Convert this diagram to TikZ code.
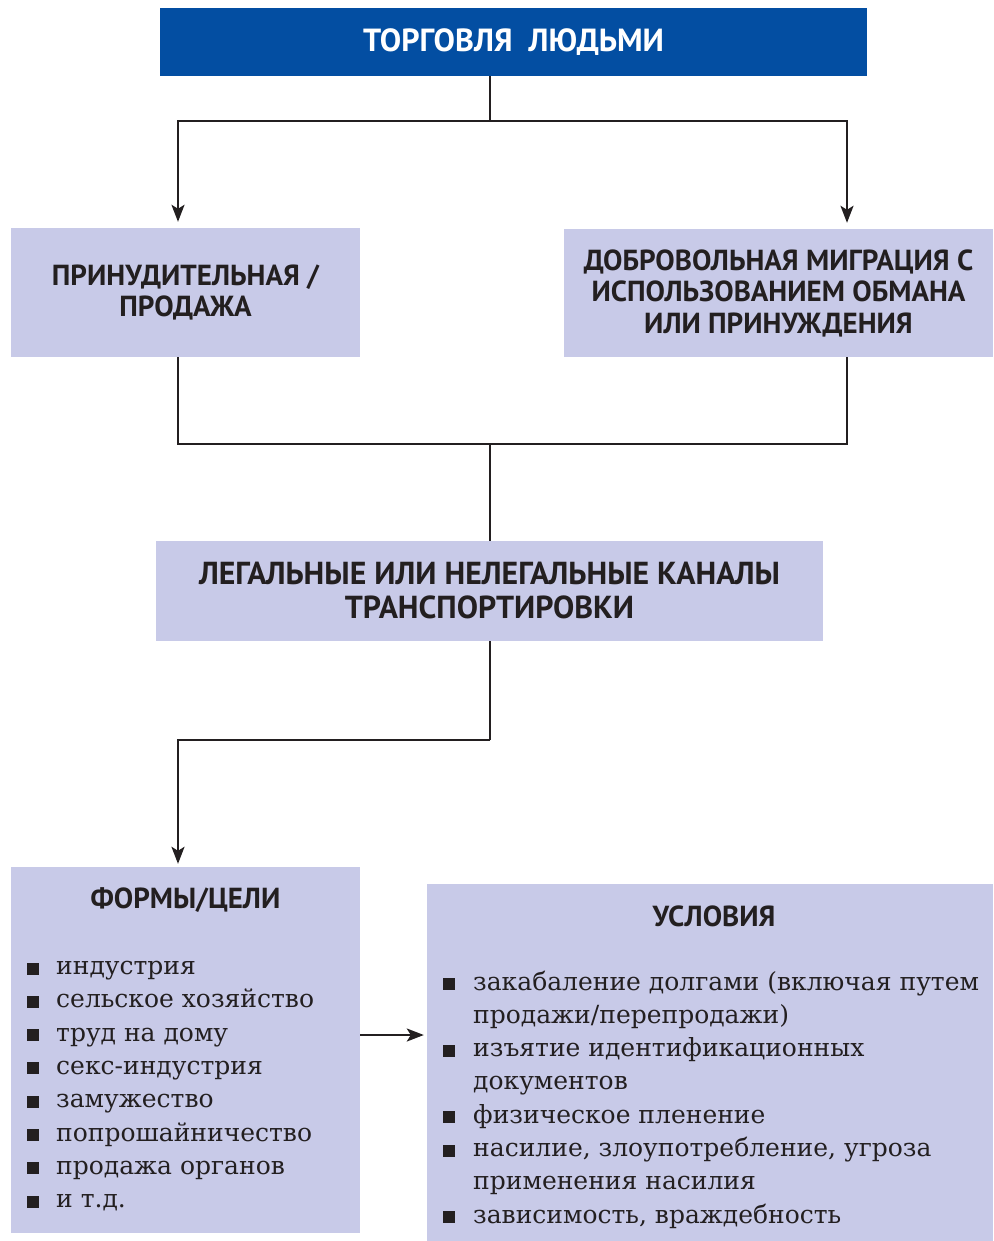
\documentclass[tikz,border=0pt]{standalone}
\usepackage{fontspec}
\setmainfont{DejaVu Serif}
\newfontfamily\hdfont{PT Sans}
\usetikzlibrary{arrows.meta}
\definecolor{dblue}{HTML}{034EA2}
\definecolor{lav}{HTML}{C8CAE8}
\definecolor{ink}{HTML}{231F20}
\newcommand{\blt}{\rule{12pt}{12pt}}
\begin{document}
\begin{tikzpicture}[x=1pt,y=-1pt,
  box/.style={fill=lav, draw=none, inner sep=0, align=center, text=ink,
    font=\hdfont\bfseries\fontsize{29}{31.5}\selectfont},
  hd/.style={inner sep=0, text=ink, font=\hdfont\bfseries\fontsize{29}{31.5}\selectfont},
  lst/.style={inner sep=0, anchor=base west, text=ink, font=\fontsize{25}{33.3}\selectfont},
  ln/.style={draw=ink, line width=2.2pt},
  arr/.style={ln, -{Stealth[length=17pt,width=13pt,inset=4pt]}}]
\useasboundingbox (0,0) rectangle (993,1241);
\fill[white] (0,0) rectangle (993,1241);
% boxes
\node[box, fill=dblue, text=white, minimum width=707, minimum height=68,
  font=\hdfont\bfseries\fontsize{32}{34}\selectfont] (top) at (513.5,42) {ТОРГОВЛЯ\ \ ЛЮДЬМИ};
\node[box, minimum width=349, minimum height=129] (left) at (185.5,292.5) {ПРИНУДИТЕЛЬНАЯ /\\ПРОДАЖА};
\node[box, minimum width=429, minimum height=128] (right) at (778.5,293) {ДОБРОВОЛЬНАЯ МИГРАЦИЯ С\\ИСПОЛЬЗОВАНИЕМ ОБМАНА\\ИЛИ ПРИНУЖДЕНИЯ};
\node[box, minimum width=667, minimum height=100,
  font=\hdfont\bfseries\fontsize{31.8}{34}\selectfont] (mid) at (489.5,591) {ЛЕГАЛЬНЫЕ ИЛИ НЕЛЕГАЛЬНЫЕ КАНАЛЫ\\ТРАНСПОРТИРОВКИ};
\node[box, minimum width=349, minimum height=366] (bl) at (185.5,1050) {};
\node[box, minimum width=566, minimum height=357] (br) at (710,1062.5) {};
% headers and lists
\node[hd] (blh) at (185.5,900) {ФОРМЫ/ЦЕЛИ};
\node[hd] (brh) at (714,916) {УСЛОВИЯ};
\node[lst] (bll) at (27,974.5) {\begin{tabular}[t]{@{}l@{\hspace{17pt}}l@{}}
\blt & индустрия\\
\blt & сельское хозяйство\\
\blt & труд на дому\\
\blt & секс-индустрия\\
\blt & замужество\\
\blt & попрошайничество\\
\blt & продажа органов\\
\blt & и т.д.
\end{tabular}};
\node[lst] (brl) at (443,990) {\begin{tabular}[t]{@{}l@{\hspace{18pt}}l@{}}
\blt & закабаление долгами (включая путем\\
 & продажи/перепродажи)\\
\blt & изъятие идентификационных\\
 & документов\\
\blt & физическое пленение\\
\blt & насилие, злоупотребление, угроза\\
 & применения насилия\\
\blt & зависимость, враждебность
\end{tabular}};
% connectors
\coordinate (j1) at (490,121);
\coordinate (j2) at (490,444);
\coordinate (j3) at (490,740);
\draw[ln] (j1 |- top.south) -- (j1);
\draw[arr, shorten >=6pt] (j1) -| ([xshift=-7.5]left.north);
\draw[arr, shorten >=6pt] (j1) -| ([xshift=68.5]right.north);
\draw[ln] ([xshift=-7.5]left.south) |- (j2);
\draw[ln] ([xshift=68.5]right.south) |- (j2);
\draw[ln] (j2) -- (j2 |- mid.north);
\draw[ln] (j3 |- mid.south) -- (j3);
\draw[arr, shorten >=3pt] (j3) -| ([xshift=-7.5]bl.north);
\draw[arr, shorten >=3pt] ([yshift=15]bl.east) -- ([yshift=15]bl.east -| br.west);
\end{tikzpicture}
\end{document}
